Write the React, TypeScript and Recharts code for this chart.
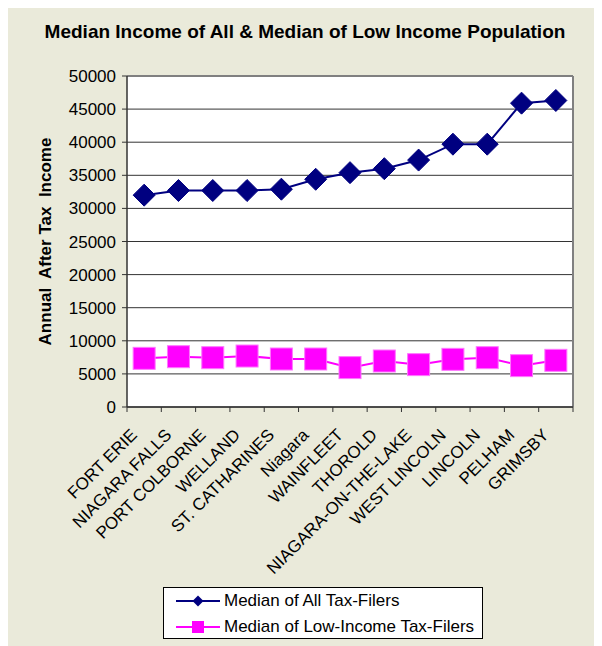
import React from 'react';
import { LineChart, Line, XAxis, YAxis, CartesianGrid, ReferenceLine } from 'recharts';

const categories = [
  'FORT ERIE', 'NIAGARA FALLS', 'PORT COLBORNE', 'WELLAND', 'ST. CATHARINES', 'Niagara',
  'WAINFLEET', 'THOROLD', 'NIAGARA-ON-THE-LAKE', 'WEST LINCOLN', 'LINCOLN', 'PELHAM', 'GRIMSBY',
];
const allTaxFilers = [32000, 32700, 32700, 32700, 32900, 34400, 35400, 36000, 37300, 39700, 39700, 45900, 46300];
const lowIncomeTaxFilers = [7350, 7600, 7450, 7700, 7250, 7250, 5950, 6950, 6400, 7200, 7450, 6250, 7050];
const yTicks = [0, 5000, 10000, 15000, 20000, 25000, 30000, 35000, 40000, 45000, 50000];
const seriesNames = ['Median of All Tax-Filers', 'Median of Low-Income Tax-Filers'];

const W = 594;
const H = 638;
const MARGIN = { top: 68, right: 29, bottom: 0, left: 0 };
const Y_AXIS_W = 119;
const PLOT_W = W - MARGIN.left - MARGIN.right - Y_AXIS_W;
const STEP = PLOT_W / categories.length;

const FONT = '"Liberation Sans", Arial, sans-serif';
const BLUE = '#000080';
const PINK = '#FF00FF';

// category i sits in the middle of slot [i, i+1]
const data = categories.map((name, i) => ({
  name,
  pos: i + 0.5,
  all: allTaxFilers[i],
  low: lowIncomeTaxFilers[i],
}));
const boundaryTicks = categories.map((_c, i) => i).concat(categories.length);

const Diamond = (props: any) => {
  const { cx, cy, index } = props;
  const r = 11;
  return (
    <polygon
      key={`d-${index}`}
      points={`${cx},${cy - r} ${cx + r},${cy} ${cx},${cy + r} ${cx - r},${cy}`}
      fill={BLUE}
      stroke={BLUE}
    />
  );
};

const Square = (props: any) => {
  const { cx, cy, index } = props;
  const r = 11;
  return (
    <rect key={`s-${index}`} x={cx - r} y={cy - r} width={r * 2} height={r * 2} fill={PINK} stroke="#FF77FF" strokeWidth={1} />
  );
};

const XTick = (props: any) => {
  const { x, y, payload } = props;
  const label = categories[payload.value];
  if (!label) return null;
  const ax = x + STEP / 2 - 6;
  const ay = y + 22;
  return (
    <text
      x={ax}
      y={ay}
      textAnchor="end"
      transform={`rotate(-45, ${ax}, ${ay})`}
      fontSize={17}
      fontFamily={FONT}
      fill="#000"
    >
      {label}
    </text>
  );
};

const YLabel = (props: any) => {
  const { viewBox } = props;
  const cx = 37;
  const cy = viewBox.y + viewBox.height / 2;
  return (
    <text
      x={cx}
      y={cy}
      textAnchor="middle"
      dominantBaseline="central"
      transform={`rotate(-90, ${cx}, ${cy})`}
      fontSize={17}
      fontWeight="bold"
      fontFamily={FONT}
      fill="#000"
      style={{ whiteSpace: 'pre' }}
    >
      {'Annual  After Tax  Income'}
    </text>
  );
};

export default function App() {
  return (
    <div style={{ position: 'relative', width: W, height: H, backgroundColor: '#EAEADA', fontFamily: FONT }}>
      <div
        style={{
          position: 'absolute',
          top: 13,
          left: 0,
          width: W,
          textAlign: 'center',
          fontSize: 19,
          fontWeight: 'bold',
          color: '#000',
        }}
      >
        Median Income of All &amp; Median of Low Income Population
      </div>

      <LineChart width={W} height={H} data={data} margin={MARGIN} style={{ position: 'absolute', top: 0, left: 0 }}>
        <CartesianGrid vertical={false} stroke="#333" fill="#fff" />
        <XAxis
          dataKey="pos"
          type="number"
          domain={[0, categories.length]}
          ticks={boundaryTicks}
          interval={0}
          height={H - MARGIN.top - 331}
          tick={<XTick />}
          tickSize={5}
          axisLine={{ stroke: '#333', strokeWidth: 1.5 }}
          tickLine={{ stroke: '#333' }}
        />
        <YAxis
          domain={[0, 50000]}
          ticks={yTicks}
          interval={0}
          width={Y_AXIS_W}
          tickSize={5}
          tickMargin={6}
          tick={{ fontSize: 17, fontFamily: FONT, fill: '#000' }}
          axisLine={{ stroke: '#333', strokeWidth: 1.5 }}
          tickLine={{ stroke: '#333' }}
          label={<YLabel />}
        />
        <ReferenceLine y={50000} stroke="#808080" strokeWidth={2} />
        <ReferenceLine x={categories.length} stroke="#808080" strokeWidth={2} />
        <Line
          dataKey="all"
          stroke={BLUE}
          strokeWidth={2}
          dot={<Diamond />}
          activeDot={false}
          isAnimationActive={false}
        />
        <Line
          dataKey="low"
          stroke={PINK}
          strokeWidth={2}
          dot={<Square />}
          activeDot={false}
          isAnimationActive={false}
        />
      </LineChart>

      {/* legend box */}
      <div
        style={{
          position: 'absolute',
          left: 155,
          top: 579,
          width: 318,
          height: 50,
          border: '1px solid #000',
          backgroundColor: '#fff',
          fontSize: 17,
          color: '#000',
        }}
      >
        {seriesNames.map((name, i) => (
          <div key={name} style={{ position: 'absolute', left: 12, top: i === 0 ? 3 : 29, height: 20, display: 'flex', alignItems: 'center' }}>
            <svg width={44} height={20} style={{ marginRight: 4 }}>
              <line x1={0} y1={10} x2={44} y2={10} stroke={i === 0 ? BLUE : PINK} strokeWidth={2} />
              {i === 0 ? (
                <polygon points="22,4.5 27.5,10 22,15.5 16.5,10" fill={BLUE} />
              ) : (
                <rect x={16} y={4} width={12} height={12} fill={PINK} />
              )}
            </svg>
            <span style={{ whiteSpace: 'nowrap' }}>{name}</span>
          </div>
        ))}
      </div>
    </div>
  );
}
